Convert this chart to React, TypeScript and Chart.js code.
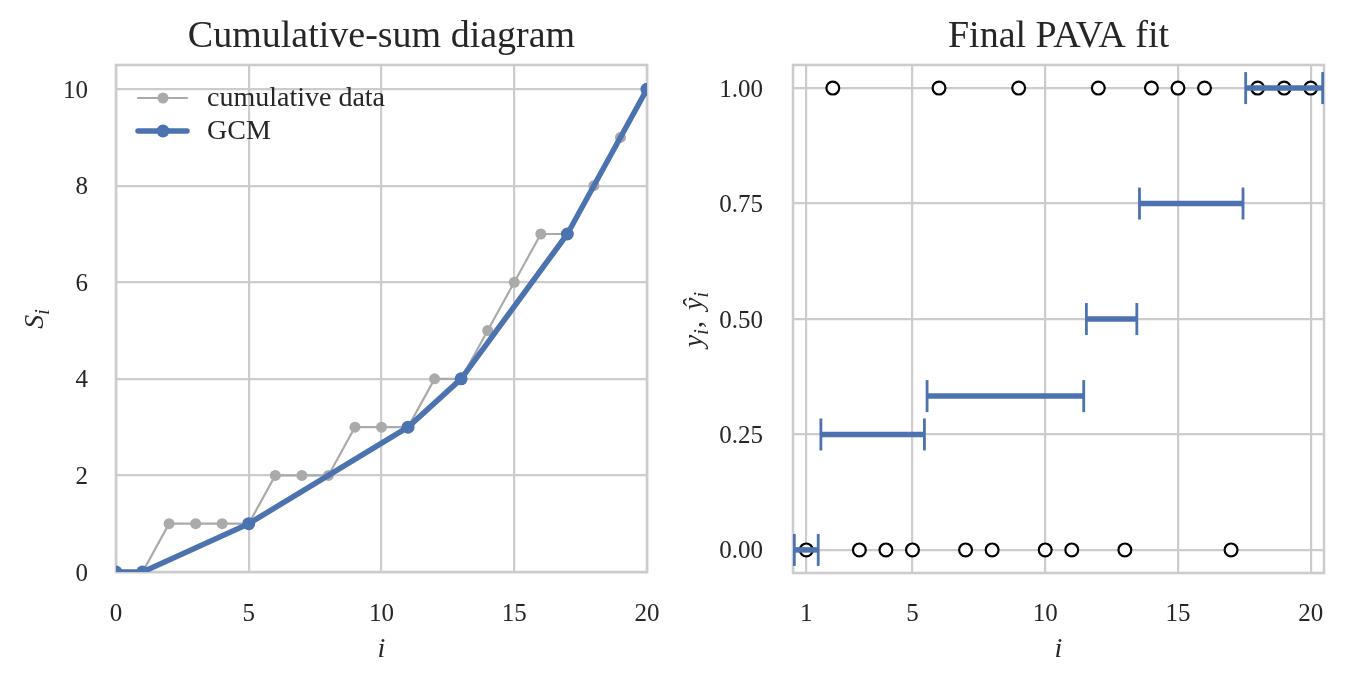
import React, { useEffect, useRef } from 'react'
import { Chart, registerables } from 'chart.js'

Chart.register(...registerables)

// observations y_i, i = 1..20
const obsIndex = [1, 2, 3, 4, 5, 6, 7, 8, 9, 10, 11, 12, 13, 14, 15, 16, 17, 18, 19, 20]
const obsValue = [0, 1, 0, 0, 0, 1, 0, 0, 1, 0, 0, 1, 0, 1, 1, 1, 0, 1, 1, 1]

// cumulative sums S_i, i = 0..20
const cumIndex = [0, 1, 2, 3, 4, 5, 6, 7, 8, 9, 10, 11, 12, 13, 14, 15, 16, 17, 18, 19, 20]
const cumValue = [0, 0, 1, 1, 1, 1, 2, 2, 2, 3, 3, 3, 4, 4, 5, 6, 7, 7, 8, 9, 10]

// vertices of the greatest convex minorant
const gcmIndex = [0, 1, 5, 11, 13, 17, 20]
const gcmValue = [0, 0, 1, 3, 4, 7, 10]

// PAVA blocks (first index, last index, fitted value)
const blockStart = [1, 2, 6, 12, 14, 18]
const blockEnd = [1, 5, 11, 13, 17, 20]
const blockFit = [0, 0.25, 0.333, 0.5, 0.75, 1]

const leftXTicks = [0, 5, 10, 15, 20]
const leftYTicks = [0, 2, 4, 6, 8, 10]
const rightXTicks = [1, 5, 10, 15, 20]
const rightYTicks = [0, 0.25, 0.5, 0.75, 1]

const FONT = '"Liberation Serif", "Times New Roman", serif'
const INK = '#262626'
const GRID = '#cccccc'
const BLUE = '#4c72b0'
const GRAY = '#aaaaaa'

type Piece = { text: string; italic?: boolean; sub?: boolean }

// draws a short math label centred on (cx, cy), cy being the baseline
function drawMath(ctx: CanvasRenderingContext2D, pieces: Piece[], cx: number, cy: number, size: number, vertical: boolean) {
    const fontOf = (p: Piece) => `${p.italic ? 'italic ' : ''}${p.sub ? size * 0.72 : size}px ${FONT}`
    ctx.save()
    ctx.translate(cx, cy)
    if (vertical) ctx.rotate(-Math.PI / 2)
    ctx.fillStyle = INK
    ctx.textBaseline = 'alphabetic'
    ctx.textAlign = 'left'
    let total = 0
    const widths = pieces.map(p => {
        ctx.font = fontOf(p)
        const w = ctx.measureText(p.text).width + (p.sub ? 1 : 0)
        total += w
        return w
    })
    let x = -total / 2
    pieces.forEach((p, k) => {
        ctx.font = fontOf(p)
        ctx.fillText(p.text, x, p.sub ? size * 0.2 : 0)
        x += widths[k]
    })
    ctx.restore()
}

const framePlugin = {
    id: 'frame',
    beforeDatasetsDraw(chart: any) {
        const { ctx, chartArea: a } = chart
        ctx.save()
        ctx.strokeStyle = GRID
        ctx.lineWidth = 2.6
        ctx.strokeRect(a.left, a.top, a.right - a.left, a.bottom - a.top)
        ctx.restore()
    }
}

function labelsPlugin(title: string, xLabel: Piece[], yLabel: Piece[], yLabelX: number) {
    return {
        id: 'labels',
        afterDraw(chart: any) {
            const { ctx, chartArea: a } = chart
            const mid = (a.left + a.right) / 2
            ctx.save()
            ctx.fillStyle = INK
            ctx.font = `38px ${FONT}`
            ctx.textAlign = 'center'
            ctx.textBaseline = 'alphabetic'
            ctx.fillText(title, mid, 47)
            ctx.restore()
            drawMath(ctx, xLabel, mid, 657, 28, false)
            drawMath(ctx, yLabel, yLabelX, (a.top + a.bottom) / 2, 28, true)
        }
    }
}

const legendPlugin = {
    id: 'insideLegend',
    afterDatasetsDraw(chart: any) {
        const { ctx, chartArea: a } = chart
        const rows = [
            { text: 'cumulative data', color: GRAY, width: 2.2, r: 5.5 },
            { text: 'GCM', color: BLUE, width: 5.5, r: 6.5 }
        ]
        ctx.save()
        rows.forEach((row, k) => {
            const y = a.top + 33 + k * 33
            ctx.strokeStyle = row.color
            ctx.lineWidth = row.width
            ctx.lineCap = 'round'
            ctx.beginPath()
            ctx.moveTo(a.left + 22, y)
            ctx.lineTo(a.left + 71, y)
            ctx.stroke()
            ctx.fillStyle = row.color
            ctx.beginPath()
            ctx.arc(a.left + 47, y, row.r, 0, Math.PI * 2)
            ctx.fill()
            ctx.fillStyle = INK
            ctx.font = `28px ${FONT}`
            ctx.textBaseline = 'middle'
            ctx.fillText(row.text, a.left + 91, y + 1)
        })
        ctx.restore()
    }
}

const gridOpts = { color: GRID, lineWidth: 2.2, drawTicks: false }
const tickFont = { family: FONT, size: 25 }

// fixed axis box sizes, no extra padding for overflowing labels
function fixX(height: number) {
    return (s: any) => {
        s.height = height
        s.paddingLeft = 0
        s.paddingRight = 0
    }
}
function fixY(width: number) {
    return (s: any) => {
        s.width = width
        s.paddingTop = 0
        s.paddingBottom = 0
    }
}

function leftConfig(): any {
    return {
        type: 'line',
        data: {
            datasets: [
                {
                    label: 'GCM',
                    data: gcmIndex.map((x, k) => ({ x, y: gcmValue[k] })),
                    borderColor: BLUE,
                    backgroundColor: BLUE,
                    borderWidth: 5.5,
                    borderJoinStyle: 'round',
                    pointRadius: 6.5,
                    pointBorderWidth: 0,
                    pointBackgroundColor: BLUE,
                    clip: 0
                },
                {
                    label: 'cumulative data',
                    data: cumIndex.map((x, k) => ({ x, y: cumValue[k] })),
                    borderColor: GRAY,
                    backgroundColor: GRAY,
                    borderWidth: 2.2,
                    pointRadius: 5.5,
                    pointBorderWidth: 0,
                    pointBackgroundColor: GRAY,
                    clip: 0
                }
            ]
        },
        options: {
            animation: false,
            responsive: true,
            maintainAspectRatio: false,
            events: [],
            layout: { padding: { top: 65, right: 25, left: 0, bottom: 0 } },
            plugins: { legend: { display: false }, tooltip: { enabled: false } },
            scales: {
                x: {
                    type: 'linear', min: 0, max: 20,
                    afterBuildTicks: (s: any) => { s.ticks = leftXTicks.map(value => ({ value })) },
                    afterFit: fixX(113),
                    grid: gridOpts, border: { display: false },
                    ticks: { color: INK, font: tickFont, padding: 27, maxRotation: 0, autoSkip: false }
                },
                y: {
                    type: 'linear', min: 0, max: 10.5,
                    afterBuildTicks: (s: any) => { s.ticks = leftYTicks.map(value => ({ value })) },
                    afterFit: fixY(116),
                    grid: gridOpts, border: { display: false },
                    ticks: { color: INK, font: tickFont, padding: 28, labelOffset: 2, autoSkip: false }
                }
            }
        },
        plugins: [
            framePlugin,
            legendPlugin,
            labelsPlugin('Cumulative-sum diagram', [{ text: 'i', italic: true }],
                [{ text: 'S', italic: true }, { text: 'i', italic: true, sub: true }], 43)
        ]
    }
}

function rightConfig(): any {
    const blocks = blockStart.map((start, k) => ({
        label: `block ${k + 1}`,
        data: [
            { x: start - 0.45, y: blockFit[k] },
            { x: blockEnd[k] + 0.45, y: blockFit[k] }
        ],
        borderColor: BLUE,
        borderWidth: 5.5,
        borderCapStyle: 'butt',
        pointStyle: 'line',
        pointRotation: 90,
        pointRadius: 16,
        pointBorderWidth: 2.8,
        pointBorderColor: BLUE
    }))
    return {
        type: 'line',
        data: {
            datasets: [
                ...blocks,
                {
                    label: 'observations',
                    data: obsIndex.map((x, k) => ({ x, y: obsValue[k] })),
                    showLine: false,
                    pointRadius: 6.4,
                    pointBorderWidth: 2.2,
                    pointBorderColor: '#000000',
                    pointBackgroundColor: '#ffffff'
                }
            ]
        },
        options: {
            animation: false,
            responsive: true,
            maintainAspectRatio: false,
            events: [],
            layout: { padding: { top: 65, right: 21, left: 0, bottom: 0 } },
            plugins: { legend: { display: false }, tooltip: { enabled: false } },
            scales: {
                x: {
                    type: 'linear', min: 0.5, max: 20.5,
                    afterBuildTicks: (s: any) => { s.ticks = rightXTicks.map(value => ({ value })) },
                    afterFit: fixX(112),
                    grid: gridOpts, border: { display: false },
                    ticks: { color: INK, font: tickFont, padding: 26, maxRotation: 0, autoSkip: false }
                },
                y: {
                    type: 'linear', min: -0.05, max: 1.05,
                    afterBuildTicks: (s: any) => { s.ticks = rightYTicks.map(value => ({ value })) },
                    afterFit: fixY(121),
                    grid: gridOpts, border: { display: false },
                    ticks: {
                        color: INK, font: tickFont, padding: 30, labelOffset: 2, autoSkip: false,
                        callback: (v: any) => Number(v).toFixed(2)
                    }
                }
            }
        },
        plugins: [
            framePlugin,
            labelsPlugin('Final PAVA fit', [{ text: 'i', italic: true }],
                [
                    { text: 'y', italic: true }, { text: 'i', italic: true, sub: true },
                    { text: ',\u2009\u2009' },
                    { text: 'ŷ', italic: true }, { text: 'i', italic: true, sub: true }
                ], 30)
        ]
    }
}

const Panel: React.FC<{ makeConfig: () => any; left: number; width: number }> = ({ makeConfig, left, width }) => {
    const canvasRef = useRef<HTMLCanvasElement>(null)

    useEffect(() => {
        if (!canvasRef.current) return
        const chart = new Chart(canvasRef.current, makeConfig())
        return () => {
            chart.destroy()
        }
    }, [makeConfig])

    return (
        <div style={{ position: 'absolute', left, top: 0, width, height: 685 }}>
            <canvas ref={canvasRef}></canvas>
        </div>
    )
}

export default function App() {
    return (
        <div style={{ position: 'absolute', left: 0, top: 0, width: 1345, height: 685, background: '#ffffff' }}>
            <Panel makeConfig={leftConfig} left={0} width={672} />
            <Panel makeConfig={rightConfig} left={672} width={673} />
        </div>
    )
}
